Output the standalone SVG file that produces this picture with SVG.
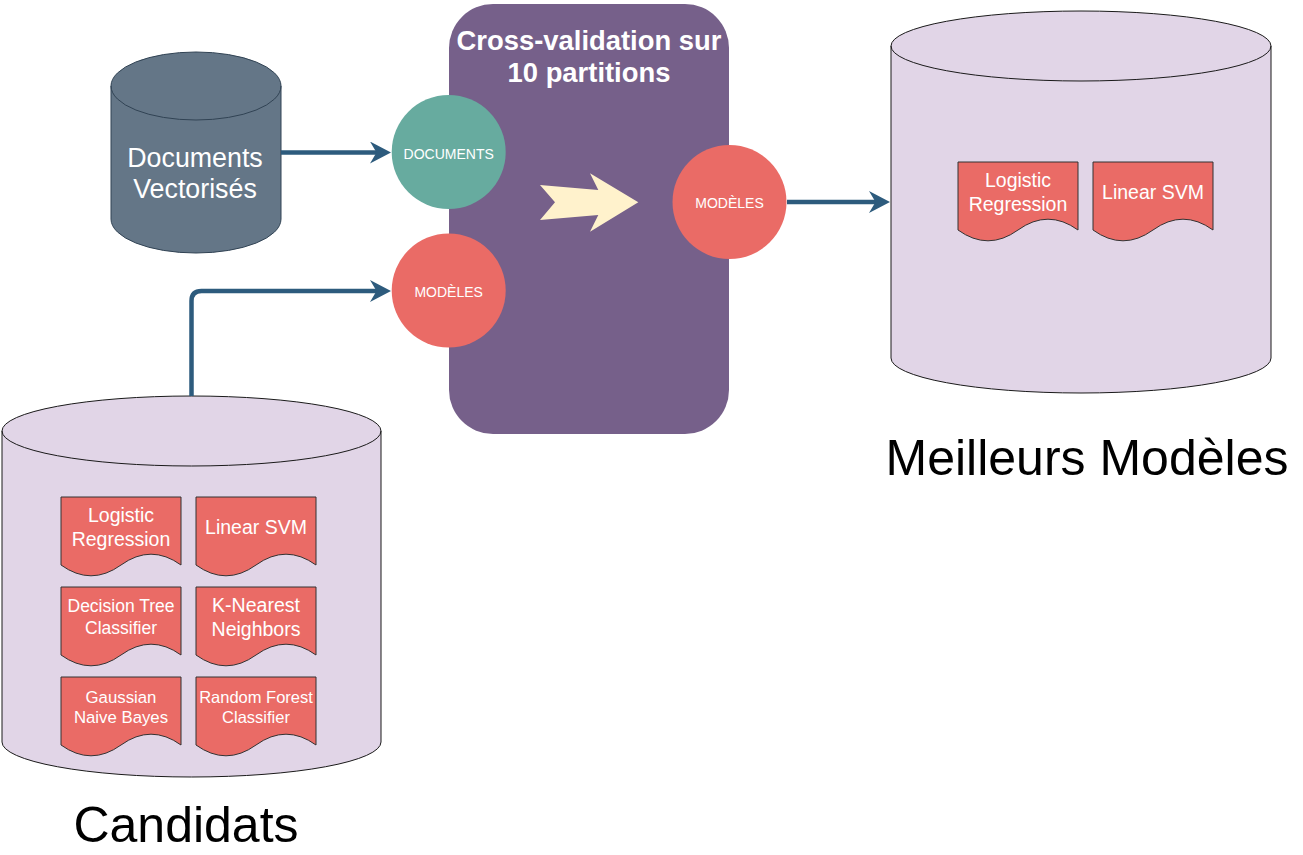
<svg xmlns="http://www.w3.org/2000/svg" width="1303" height="855" viewBox="0 0 1303 855">
<style>
text{font-family:"Liberation Sans",Arial,Helvetica,sans-serif;text-anchor:middle}
.w{fill:#FFFFFF}
.cyl{fill:#E1D5E7;stroke:#1a1a1a;stroke-width:1}
.doc{fill:#EA6B66;stroke:#333333;stroke-width:1}
.conn{fill:none;stroke:#2D5B7D;stroke-width:4.5}
.big{font-size:50px;fill:#000000}
</style>
<defs>
<path id="docshape" d="M0,0 H120 V68 Q90,46.4 60,68 Q30,89.6 0,68 Z"/>
<marker id="ah" viewBox="0 0 21 22" refX="10" refY="11" markerWidth="21" markerHeight="22" markerUnits="userSpaceOnUse" orient="auto">
<path d="M0,0 L21,11 L0,22 L6.5,11 Z" fill="#2D5B7D"/>
</marker>
</defs>
<rect width="1303" height="855" fill="#FFFFFF"/>

<g id="crossval">
<rect x="449" y="4" width="280" height="430" rx="44" ry="44" fill="#76608A"/>
<text class="w" x="589" y="50" font-size="27.4" font-weight="bold">Cross-validation sur</text>
<text class="w" x="589" y="82" font-size="27.4" font-weight="bold">10 partitions</text>
<polygon points="540,185 598.3,190 590,173.3 638.3,202.3 590,231.7 598.3,215 540,220 555,202.3" fill="#FFF2CC"/>
</g>

<g id="docs-vect">
<path d="M111,86 A85,34 0 0 1 281,86 L281,219 A85,34 0 0 1 111,219 Z" fill="#647687" stroke="#314354" stroke-width="1"/>
<path d="M111,86 A85,34 0 0 0 281,86" fill="none" stroke="#314354" stroke-width="1"/>
<text class="w" x="195" y="167" font-size="26.8">Documents</text>
<text class="w" x="195" y="198" font-size="26.8">Vectorisés</text>
</g>

<g id="circle-documents">
<circle cx="448.7" cy="152" r="57" fill="#67AB9F"/>
<text class="w" x="448.7" y="159" font-size="14">DOCUMENTS</text>
</g>

<g id="circle-modeles-in">
<circle cx="448.7" cy="290.5" r="57" fill="#EA6B66"/>
<text class="w" x="448.7" y="296.7" font-size="14">MODÈLES</text>
</g>

<g id="circle-modeles-out">
<circle cx="729.5" cy="202" r="57" fill="#EA6B66"/>
<text class="w" x="729.5" y="208.3" font-size="14">MODÈLES</text>
</g>

<g id="best-models">
<path class="cyl" d="M891,46 A190,35 0 0 1 1271,46 L1271,358 A190,35 0 0 1 891,358 Z"/>
<path d="M891,46 A190,35 0 0 0 1271,46" fill="none" stroke="#1a1a1a" stroke-width="1"/>
<use href="#docshape" class="doc" transform="translate(958,162)"/>
<text class="w" x="1018" y="186.7" font-size="19.5">Logistic</text>
<text class="w" x="1018" y="210.7" font-size="19.5">Regression</text>
<use href="#docshape" class="doc" transform="translate(1093,162)"/>
<text class="w" x="1153" y="199.3" font-size="19.5">Linear SVM</text>
</g>

<g id="candidats">
<path class="cyl" d="M2,431 A189.5,35 0 0 1 381,431 L381,742 A189.5,35 0 0 1 2,742 Z"/>
<path d="M2,431 A189.5,35 0 0 0 381,431" fill="none" stroke="#1a1a1a" stroke-width="1"/>
<use href="#docshape" class="doc" transform="translate(61,497)"/>
<text class="w" x="121" y="521.7" font-size="19.5">Logistic</text>
<text class="w" x="121" y="546" font-size="19.5">Regression</text>
<use href="#docshape" class="doc" transform="translate(196,497)"/>
<text class="w" x="256" y="534" font-size="19.5">Linear SVM</text>
<use href="#docshape" class="doc" transform="translate(61,587)"/>
<text class="w" x="121" y="611.7" font-size="17.5">Decision Tree</text>
<text class="w" x="121" y="634" font-size="17.5">Classifier</text>
<use href="#docshape" class="doc" transform="translate(196,587)"/>
<text class="w" x="256" y="611.7" font-size="19.5">K-Nearest</text>
<text class="w" x="256" y="636" font-size="19.5">Neighbors</text>
<use href="#docshape" class="doc" transform="translate(61,677)"/>
<text class="w" x="121" y="702.7" font-size="16.8">Gaussian</text>
<text class="w" x="121" y="723.3" font-size="16.8">Naive Bayes</text>
<use href="#docshape" class="doc" transform="translate(196,677)"/>
<text class="w" x="256" y="702.7" font-size="16.5">Random Forest</text>
<text class="w" x="256" y="723.3" font-size="16.5">Classifier</text>
</g>

<g id="connectors">
<path class="conn" d="M281,152.5 H380" marker-end="url(#ah)"/>
<path class="conn" d="M191.5,396 V301 Q191.5,291 201.5,291 H380" marker-end="url(#ah)"/>
<path class="conn" d="M787,202 H879" marker-end="url(#ah)"/>
</g>

<g id="labels">
<text class="big" x="1087" y="475">Meilleurs Modèles</text>
<text class="big" x="186" y="842">Candidats</text>
</g>
</svg>
